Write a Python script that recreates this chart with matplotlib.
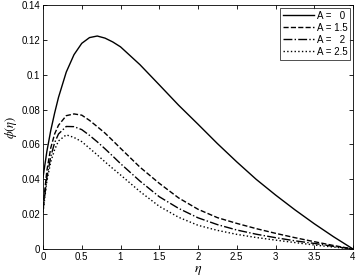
import numpy as np
import matplotlib.pyplot as plt

plt.rcParams['font.family'] = ['Liberation Sans', 'DejaVu Sans']
plt.rcParams['mathtext.fontset'] = 'stix'

# values
eta = [0, 0.05, 0.1, 0.15, 0.2, 0.3, 0.4, 0.5, 0.6, 0.7, 0.8, 0.9, 1.0, 1.25, 1.5,
       1.75, 2.0, 2.25, 2.5, 2.75, 3.0, 3.25, 3.5, 3.75, 4.0]
phi_a0 = [0.041, 0.056, 0.068, 0.078, 0.087, 0.1015, 0.1115, 0.118, 0.1213, 0.1222, 0.121, 0.1188, 0.116,
          0.1058, 0.0942, 0.0825, 0.0716, 0.0605, 0.050, 0.040, 0.031, 0.0225, 0.0145, 0.007, 0.0]
phi_a15 = [0.024, 0.045, 0.058, 0.066, 0.071, 0.0765, 0.0775, 0.0768, 0.0738, 0.0702, 0.0665, 0.0622, 0.0578,
           0.047, 0.0377, 0.0293, 0.0228, 0.018, 0.0147, 0.0117, 0.009, 0.0065, 0.0042, 0.002, 0.0]
phi_a2 = [0.022, 0.041, 0.053, 0.061, 0.066, 0.0703, 0.0702, 0.0685, 0.0652, 0.0615, 0.0575, 0.0533, 0.049,
          0.039, 0.030, 0.0233, 0.0179, 0.014, 0.0109, 0.0085, 0.0065, 0.0047, 0.0032, 0.0015, 0.0]
phi_a25 = [0.021, 0.039, 0.050, 0.057, 0.062, 0.0655, 0.064, 0.0616, 0.0578, 0.054, 0.050, 0.0462, 0.0425,
           0.033, 0.0245, 0.0182, 0.0136, 0.0107, 0.0084, 0.0066, 0.0051, 0.0037, 0.0023, 0.0011, 0.0]
labels = ['A =   0', 'A = 1.5', 'A =   2', 'A = 2.5']
styles = ['-', '--', '-.', ':']

fig = plt.figure(figsize=(3.57, 2.78), dpi=100)
ax = fig.add_axes([43/357, 29/278, 310/357, 244/278])

for y, lab, ls in zip([phi_a0, phi_a15, phi_a2, phi_a25], labels, styles):
    ax.plot(eta, y, color='black', linestyle=ls, linewidth=1.0, label=lab)

ax.set_xlim(0, 4)
ax.set_ylim(0, 0.14)
ax.set_xticks(np.arange(0, 4.01, 0.5))
ax.set_xticklabels(['0', '0.5', '1', '1.5', '2', '2.5', '3', '3.5', '4'])
ax.set_yticks(np.arange(0, 0.141, 0.02))
ax.set_yticklabels(['0', '0.02', '0.04', '0.06', '0.08', '0.1', '0.12', '0.14'])
ax.tick_params(direction='in', top=True, right=True, labelsize=7, length=3, width=0.6, pad=2)
for s in ax.spines.values():
    s.set_linewidth(0.6)

ax.set_xlabel(r'$\eta$', fontsize=10, labelpad=1)
ax.set_ylabel(r'$\phi(\eta)$', fontsize=9, labelpad=2)

leg = ax.legend(loc='upper right', fontsize=7, fancybox=False, edgecolor='black',
                handlelength=3.2, borderaxespad=0.3, labelspacing=0.2, handletextpad=0.3,
                borderpad=0.3)
leg.get_frame().set_linewidth(0.6)

fig.savefig('out.png', dpi=100)
